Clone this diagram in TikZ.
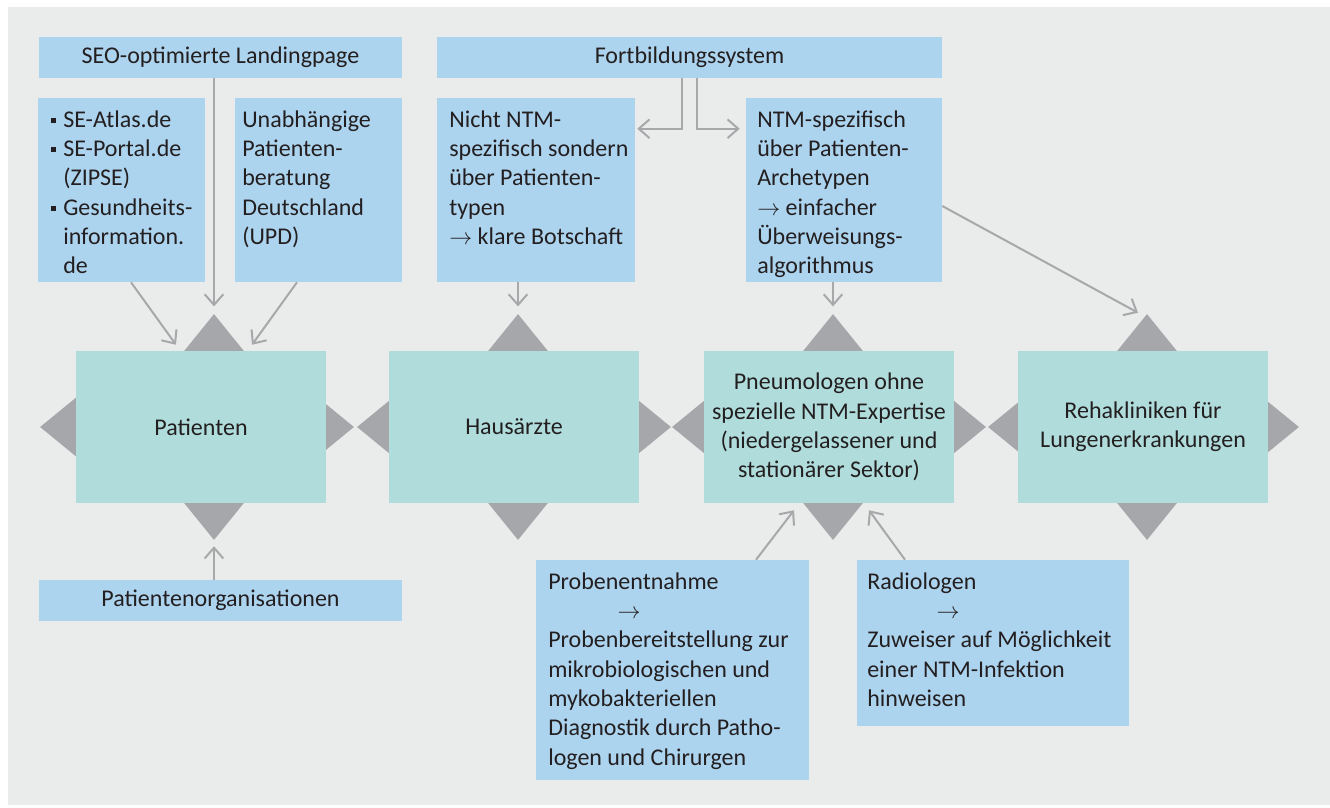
\documentclass[tikz,border=0pt]{standalone}
\usepackage{fontspec}
\setmainfont{Carlito}
\usetikzlibrary{arrows.meta,shapes.geometric,fit}
\definecolor{bgc}{RGB}{234,236,236}
\definecolor{boxblue}{RGB}{173,212,239}
\definecolor{boxgreen}{RGB}{176,221,220}
\definecolor{diag}{RGB}{166,167,171}
\definecolor{arrg}{RGB}{168,168,170}
\definecolor{txt}{RGB}{35,31,32}
\newcommand\bul{\makebox[9pt][l]{\rule[3pt]{3.75pt}{3.75pt}}}
\newcommand\nob{\hspace*{9pt}}
\newcommand\arr{{\fontsize{16}{22}\selectfont$\rightarrow$}}
\begin{document}
\begin{tikzpicture}[x=0.75pt,y=-0.75pt,
  font={\fontsize{18}{22}\selectfont}, text=txt,
  bluebox/.style={fill=boxblue, inner sep=0pt, draw=none},
  greenbox/.style={fill=boxgreen, inner sep=0pt, draw=none},
  ctext/.style={inner sep=0pt, align=center},
  dia/.style={shape=diamond, fill=diag, inner sep=0pt, draw=none},
  vdia/.style={dia, minimum width=45pt, minimum height=55.5pt},
  conn/.style={draw=arrg, line width=1.5pt, -{Straight Barb[length=8pt,width=14pt]}},
  txtb/.style={anchor=base west, inner sep=0pt}]
\useasboundingbox (0,0) rectangle (1330,807);
\fill[bgc] (8,7) rectangle (1330,805);

% diamonds (behind the boxes)
\node[vdia] (pT) at (214,351) {};
\node[vdia] (pB) at (214,503) {};
\node[dia, minimum width=54pt, minimum height=44.25pt] (pL) at (76,427) {};
\node[dia, minimum width=42pt, minimum height=34.5pt] (pR) at (326,427) {};
\node[vdia] (hT) at (518,351) {};
\node[vdia] (hB) at (518,503) {};
\node[dia, minimum width=48pt, minimum height=39.4pt] (hL) at (389,427) {};
\node[dia, minimum width=48pt, minimum height=39.4pt] (hR) at (639,427) {};
\node[vdia] (nT) at (833,351) {};
\node[vdia] (nB) at (833,503) {};
\node[dia, minimum width=48pt, minimum height=39.4pt] (nL) at (704,427) {};
\node[dia, minimum width=48pt, minimum height=39.4pt] (nR) at (954,427) {};
\node[vdia] (rT) at (1147,351) {};
\node[vdia] (rB) at (1147,503) {};
\node[dia, minimum width=45pt, minimum height=36.9pt] (rL) at (1018,427) {};
\node[dia, minimum width=46.5pt, minimum height=38pt] (rR) at (1268,427) {};

% main boxes
\node[greenbox, fit={(76,351) (326,503)}] (pat) {};
\node[greenbox, fit={(389,351) (639,503)}] (haus) {};
\node[greenbox, fit={(704,351) (954,503)}] (pneu) {};
\node[greenbox, fit={(1018,351) (1268,503)}] (reha) {};
\node[ctext] (patT) at (pat.center) {Patienten};
\node[ctext] (hausT) at (haus.center) {Hausärzte};
\node[ctext] (pneuT) at (pneu.center) {Pneumologen ohne\\spezielle NTM-Expertise\\(niedergelassener und\\stationärer Sektor)};
\node[ctext] (rehaT) at (reha.center) {Rehakliniken für\\Lungenerkrankungen};

% blue boxes
\node[bluebox, fit={(39,37) (402,78)}] (seo) {};
\node[bluebox, fit={(38,98) (205,282)}] (atlas) {};
\node[bluebox, fit={(235,98) (402,282)}] (upd) {};
\node[bluebox, fit={(437,37) (942,78)}] (fort) {};
\node[bluebox, fit={(437,98) (635,282)}] (nicht) {};
\node[bluebox, fit={(746,98) (942,282)}] (ntm) {};
\node[bluebox, fit={(39,580) (402,621)}] (porg) {};
\node[bluebox, fit={(536,560) (809,780)}] (proben) {};
\node[bluebox, fit={(857,560) (1129,726)}] (radio) {};
\node[ctext] (seoT) at (seo.center) {SEO-optimierte Landingpage};
\node[ctext] (fortT) at (fort.center) {Fortbildungssystem};
\node[ctext] (porgT) at (porg.center) {Patientenorganisationen};

% box texts
\node[txtb] (atlasT) at (51,127) {\parbox[t]{150pt}{\raggedright\bul SE-Atlas.de\\\bul SE-Portal.de\\\nob(ZIPSE)\\\bul Gesundheits-\\\nob information.\\\nob de}};
\node[txtb] (updT) at (242,127) {\parbox[t]{150pt}{\raggedright Unabhängige\\Patienten-\\beratung\\Deutschland\\(UPD)}};
\node[txtb] (nichtT) at (449,127) {\parbox[t]{180pt}{\raggedright Nicht NTM-\\spezifisch sondern\\über Patienten-\\typen\\\arr{} klare Botschaft}};
\node[txtb] (ntmT) at (757,127) {\parbox[t]{180pt}{\raggedright NTM-spezifisch\\über Patienten-\\Archetypen\\\arr{} einfacher\\Überweisungs-\\algorithmus}};
\node[txtb] (probenT) at (548,589) {\parbox[t]{250pt}{\raggedright Probenentnahme\\\hspace*{52pt}\arr\\Probenbereitstellung zur\\mikrobiologischen und\\mykobakteriellen\\Diagnostik durch Patho-\\logen und Chirurgen}};
\node[txtb] (radioT) at (867,589) {\parbox[t]{250pt}{\raggedright Radiologen\\\hspace*{52pt}\arr\\Zuweiser auf Möglichkeit\\einer NTM-Infektion\\hinweisen}};

% connectors
\draw[conn, shorten >=5.5pt] (seo.south -| pT.north) -- (pT.north);
\draw[conn] ([shift={(9.5,0)}]atlas.south) -- ([shift={(-38,31)}]pT.north);
\draw[conn] ([shift={(-21.5,0)}]upd.south) -- ([shift={(38,31)}]pT.north);
\draw[conn] ([shift={(-7.5,0)}]fort.south) |- ([shift={(2,31)}]nicht.north east);
\draw[conn] ([shift={(7.5,0)}]fort.south) |- ([shift={(-6,31)}]ntm.north west);
\draw[conn, shorten >=5.5pt] (nicht.south -| hT.north) -- (hT.north);
\draw[conn, shorten >=5.5pt] (ntm.south -| nT.north) -- (nT.north);
\draw[conn] ([shift={(0,16)}]ntm.east) -- ([shift={(-9,-1)}]rT.north);
\draw[conn, shorten >=4.5pt] (porg.north -| pB.south) -- (pB.south);
\draw[conn] ([shift={(83.5,0)}]proben.north) -- ([shift={(-39,-30)}]nB.south);
\draw[conn] ([shift={(-88,0)}]radio.north) -- ([shift={(36,-30)}]nB.south);
\end{tikzpicture}
\end{document}
